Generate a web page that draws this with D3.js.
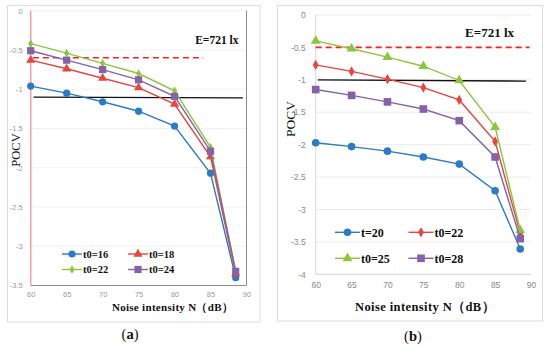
<!DOCTYPE html>
<html>
<head>
<meta charset="utf-8">
<script src="https://cdn.jsdelivr.net/npm/d3@7"></script>
<style>
  body { margin: 0; background: #fff; }
  svg { display: block; }
</style>
</head>
<body>
<svg id="chart" width="550" height="347"></svg>
<script>
// noise intensity (dB) on the x axis, same for both panels
var noise = [60, 65, 70, 75, 80, 85, 88.5];
var xTicks = [60, 65, 70, 75, 80, 85, 90];

// panel (a)
var aNames = ['t0=16', 't0=18', 't0=22', 't0=24'];
var a16 = [-0.96, -1.05, -1.16, -1.28, -1.47, -2.07, -3.40];
var a18 = [-0.63, -0.74, -0.86, -0.98, -1.19, -1.86, -3.35];
var a22 = [-0.42, -0.54, -0.67, -0.80, -1.02, -1.74, -3.32];
var a24 = [-0.51, -0.63, -0.75, -0.88, -1.09, -1.79, -3.32];
var aTicks = [0, -0.5, -1, -1.5, -2, -2.5, -3, -3.5];
var aDash = [[60.3, -0.6], [84, -0.6]];
var aSolid = [[60.4, -1.10], [89.5, -1.11]];

// panel (b)
var bNames = ['t=20', 't0=22', 't0=25', 't0=28'];
var b20 = [-1.97, -2.03, -2.10, -2.19, -2.30, -2.71, -3.61];
var b22 = [-0.77, -0.87, -0.99, -1.12, -1.31, -1.95, -3.37];
var b25 = [-0.40, -0.52, -0.65, -0.79, -1.01, -1.73, -3.32];
var b28 = [-1.15, -1.24, -1.34, -1.45, -1.63, -2.19, -3.45];
var bTicks = [0, -0.5, -1, -1.5, -2, -2.5, -3, -3.5, -4];
var bDash = [[60, -0.5], [89.8, -0.5]];
var bSolid = [[60.3, -1.0], [89.3, -1.02]];

var colors = { blue: '#2b7bc9', red: '#e8453c', green: '#8cc63f', purple: '#8462a8' };
var serif = 'Liberation Serif, Times New Roman, serif';

var svg = d3.select('#chart');

function marker(g, kind, x, y, color, s) {
  if (kind === 'circle') {
    g.append('circle').attr('cx', x).attr('cy', y).attr('r', s).attr('fill', color);
  } else if (kind === 'square') {
    g.append('rect').attr('x', x - s).attr('y', y - s).attr('width', 2 * s).attr('height', 2 * s).attr('fill', color);
  } else {
    var sym = kind === 'triangle' ? d3.symbolTriangle : d3.symbolDiamond;
    g.append('path').attr('transform', 'translate(' + x + ',' + y + ')')
      .attr('d', d3.symbol().type(sym).size(s))
      .attr('fill', color);
  }
}

function drawPanel(p) {
  var g = svg.append('g');

  // outer frame
  g.append('rect').attr('x', p.frame[0]).attr('y', p.frame[1])
    .attr('width', p.frame[2]).attr('height', p.frame[3])
    .attr('fill', 'none').attr('stroke', '#dcdcdc');

  var x = d3.scaleLinear().domain([60, 90]).range([p.left, p.right]);
  var y = d3.scaleLinear().domain(p.yDomain).range([p.top, p.bottom]);

  // gridlines
  g.selectAll('.grid').data(p.yTicks).enter().append('line')
    .attr('x1', p.left).attr('x2', p.right)
    .attr('y1', function(d) { return y(d); }).attr('y2', function(d) { return y(d); })
    .attr('stroke', p.gridColor).attr('stroke-width', 0.8);

  // axes
  var yAxis = d3.axisLeft(y).tickValues(p.yTicks).tickSize(0).tickPadding(p.yPad)
    .tickFormat(function(d) { return d === 0 ? '0' : String(d); });
  var ya = g.append('g').attr('transform', 'translate(' + p.left + ',0)').call(yAxis);
  ya.select('.domain').remove();
  ya.selectAll('text').attr('font-family', 'Liberation Sans, Arial, sans-serif')
    .attr('font-size', p.tickSize).attr('fill', p.tickColor);

  var xAxis = d3.axisBottom(x).tickValues(xTicks).tickSize(0).tickPadding(p.xPad);
  var xa = g.append('g').attr('transform', 'translate(0,' + p.bottom + ')').call(xAxis);
  xa.select('.domain').remove();
  xa.selectAll('text').attr('font-family', 'Liberation Sans, Arial, sans-serif')
    .attr('font-size', p.tickSize).attr('fill', p.tickColor);

  // plot borders
  if (p.border) {
    g.append('line').attr('x1', p.left).attr('x2', p.right).attr('y1', p.bottom).attr('y2', p.bottom)
      .attr('stroke', '#8c8c8c').attr('stroke-width', 1);
    g.append('line').attr('x1', p.right).attr('x2', p.right).attr('y1', p.top).attr('y2', p.bottom)
      .attr('stroke', '#8c8c8c').attr('stroke-width', 1);
  } else {
    g.append('line').attr('x1', p.left).attr('x2', p.right).attr('y1', p.bottom).attr('y2', p.bottom)
      .attr('stroke', '#d9d9d9').attr('stroke-width', 1);
  }
  g.append('line').attr('x1', p.left).attr('x2', p.left).attr('y1', p.top).attr('y2', p.bottom)
    .attr('stroke', p.leftColor).attr('stroke-width', p.leftWidth);

  var line = d3.line().x(function(d) { return x(d[0]); }).y(function(d) { return y(d[1]); });

  // reference lines
  g.append('path').attr('d', line(p.dash)).attr('fill', 'none')
    .attr('stroke', '#ff1f1f').attr('stroke-width', 1.6).attr('stroke-dasharray', '6,4');
  g.append('path').attr('d', line(p.solid)).attr('fill', 'none')
    .attr('stroke', '#111').attr('stroke-width', 1.3);

  // series
  p.series.forEach(function(s) {
    var pts = noise.map(function(n, i) { return [n, s.values[i]]; });
    g.append('path').attr('d', line(pts)).attr('fill', 'none')
      .attr('stroke', s.color).attr('stroke-width', 1.4);
    pts.forEach(function(d) { marker(g, s.kind, x(d[0]), y(d[1]), s.color, s.size); });
  });

  // legend
  p.series.forEach(function(s, i) {
    var lx = p.legend.x[i % 2], ly = p.legend.y[Math.floor(i / 2)];
    g.append('line').attr('x1', lx).attr('x2', lx + p.legend.len).attr('y1', ly).attr('y2', ly)
      .attr('stroke', s.color).attr('stroke-width', 1.4);
    marker(g, s.kind, lx + p.legend.len / 2, ly, s.color, s.size);
    g.append('text').attr('x', lx + p.legend.len + 1).attr('y', ly).attr('dy', '0.35em')
      .attr('font-family', serif).attr('font-weight', 'bold')
      .attr('font-size', p.legend.size).attr('fill', '#111').text(s.name);
  });

  // labels
  g.append('text').attr('x', p.eLabel[0]).attr('y', p.eLabel[1]).attr('text-anchor', 'end')
    .attr('font-family', serif).attr('font-weight', 'bold')
    .attr('font-size', p.eSize).attr('fill', '#111').text('E=721 lx');

  g.append('text').attr('transform', 'translate(' + p.yTitle[0] + ',' + p.yTitle[1] + ') rotate(-90)')
    .attr('text-anchor', 'middle').attr('font-family', serif)
    .attr('font-size', p.yTitleSize).attr('fill', '#111').text('POCV');

  g.append('text').attr('x', p.xTitleX).attr('y', p.xTitleY)
    .attr('text-anchor', 'middle').attr('font-family', serif)
    .attr('font-weight', 'bold').attr('font-size', p.xTitleSize).attr('fill', '#111')
    .attr('letter-spacing', p.xTitleSpacing)
    .text('Noise intensity N\uFF08dB\uFF09');

  var tag = g.append('text').attr('x', p.tag[0]).attr('y', p.tag[1]).attr('text-anchor', 'middle')
    .attr('font-family', serif).attr('font-size', 14.5).attr('fill', '#111');
  tag.append('tspan').text('(');
  tag.append('tspan').attr('font-weight', 'bold').text(p.tagText);
  tag.append('tspan').text(')');
}

drawPanel({
  frame: [7.5, 5.5, 252.5, 316.5],
  left: 30.7, right: 246.5, top: 10.7, bottom: 285.5,
  yDomain: [0, -3.5], yTicks: aTicks,
  gridColor: '#efefef', tickColor: '#9a9a9a', tickSize: 7.5, yPad: 8, xPad: 6,
  border: true, leftColor: '#f4a3a3', leftWidth: 1.6,
  dash: aDash, solid: aSolid,
  series: [
    { name: aNames[0], values: a16, color: colors.blue, kind: 'circle', size: 3.6 },
    { name: aNames[1], values: a18, color: colors.red, kind: 'triangle', size: 36 },
    { name: aNames[2], values: a22, color: colors.green, kind: 'diamond', size: 22 },
    { name: aNames[3], values: a24, color: colors.purple, kind: 'square', size: 3.6 }
  ],
  legend: { x: [62, 128], y: [254, 269.5], len: 20, size: 10.5 },
  eLabel: [238.5, 44], eSize: 11.5,
  yTitle: [20, 150], yTitleSize: 12.5,
  xTitleX: 172.5, xTitleY: 311, xTitleSize: 11, xTitleSpacing: 0.3,
  tag: [130, 338.5], tagText: 'a'
});

drawPanel({
  frame: [277.5, 5.5, 265, 315.5],
  left: 315.7, right: 531, top: 15, bottom: 274.3,
  yDomain: [0, -4], yTicks: bTicks,
  gridColor: '#e6e6e6', tickColor: '#8a8a8a', tickSize: 8.5, yPad: 10, xPad: 8,
  border: false, leftColor: '#d9d9d9', leftWidth: 1,
  dash: bDash, solid: bSolid,
  series: [
    { name: bNames[0], values: b20, color: colors.blue, kind: 'circle', size: 3.8 },
    { name: bNames[1], values: b22, color: colors.red, kind: 'diamond', size: 30 },
    { name: bNames[2], values: b25, color: colors.green, kind: 'triangle', size: 42 },
    { name: bNames[3], values: b28, color: colors.purple, kind: 'square', size: 3.8 }
  ],
  legend: { x: [335, 408.5], y: [232.3, 258.3], len: 25, size: 12 },
  eLabel: [514, 37], eSize: 13,
  yTitle: [294.5, 119], yTitleSize: 13.5,
  xTitleX: 425, xTitleY: 311, xTitleSize: 12.5, xTitleSpacing: 0.4,
  tag: [413, 340.5], tagText: 'b'
});
</script>
</body>
</html>
